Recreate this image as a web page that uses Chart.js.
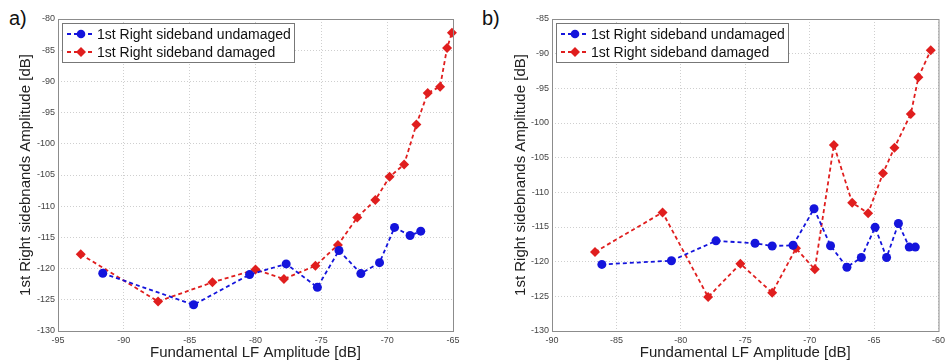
<!DOCTYPE html>
<html>
<head>
<meta charset="utf-8">
<script src="https://cdn.jsdelivr.net/npm/chart.js@4.4.0/dist/chart.umd.min.js"></script>
<style>
  body { margin: 0; background: #fff; width: 949px; height: 362px; overflow: hidden; position: relative; font-family: "Liberation Sans", Arial, sans-serif; }
  .panel { position: absolute; top: 0; }
  .tag { position: absolute; top: 7px; font-size: 20px; color: #111; }
</style>
</head>
<body>
<div class="tag" style="left:9px">a)</div>
<div class="tag" style="left:482px">b)</div>
<div class="panel" style="left:0px"><canvas id="chartA" width="470" height="362"></canvas></div>
<div class="panel" style="left:470px"><canvas id="chartB" width="479" height="362"></canvas></div>
<script>
// a) valores
const aUndamagedX = [-91.6, -84.7, -80.45, -77.67, -75.3, -73.66, -72.0, -70.58, -69.44, -68.26, -67.45];
const aUndamagedY = [-120.75, -125.8, -120.96, -119.25, -123.0, -117.1, -120.8, -119.05, -113.4, -114.7, -114.0];
const aDamagedX = [-93.27, -87.4, -83.27, -80.0, -77.84, -75.45, -73.74, -72.27, -70.9, -69.82, -68.71, -67.78, -66.92, -65.98, -65.45, -65.08];
const aDamagedY = [-117.7, -125.27, -122.2, -120.16, -121.66, -119.55, -116.2, -111.8, -109.0, -105.3, -103.3, -96.9, -91.86, -90.84, -84.65, -82.2];

// b)
const bUndamagedX = [-86.13, -80.73, -77.27, -74.24, -72.91, -71.29, -69.66, -68.38, -67.11, -65.99, -64.92, -64.03, -63.11, -62.27, -61.8];
const bUndamagedY = [-120.4, -119.86, -117.0, -117.35, -117.74, -117.64, -112.36, -117.7, -120.8, -119.4, -115.05, -119.4, -114.5, -117.9, -117.9];
const bDamagedX = [-86.66, -81.42, -77.88, -75.38, -72.91, -71.06, -69.6, -68.12, -66.7, -65.46, -64.31, -63.42, -62.15, -61.56, -60.6];
const bDamagedY = [-118.6, -112.9, -125.1, -120.3, -124.47, -118.08, -121.1, -103.17, -111.5, -113.0, -107.26, -103.56, -98.7, -93.4, -89.5];

const seriesLabels = ['1st Right sideband undamaged', '1st Right sideband damaged'];
const xTitle = 'Fundamental LF Amplitude [dB]';
const yTitle = '1st Right sidebnands Amplitude [dB]';

const BLUE = '#1414dc';
const RED = '#e01e1e';

Chart.defaults.font.family = '"Liberation Sans", Arial, sans-serif';

function pts(xs, ys) {
    return xs.map((x, i) => ({ x: x, y: ys[i] }));
}

// caixa da legenda dentro da área do gráfico + moldura
const boxLegend = {
    id: 'boxLegend',
    afterDatasetsDraw(chart, args, opts) {
        const ctx = chart.ctx;
        const a = chart.chartArea;
        ctx.save();
        ctx.strokeStyle = '#8c8c8c';
        ctx.lineWidth = 1;
        ctx.strokeRect(a.left + 0.5, a.top + 0.5, a.right - a.left, a.bottom - a.top);

        const bx = a.left + 4, by = a.top + 4, bw = opts.width, bh = 39;
        ctx.fillStyle = '#fff';
        ctx.fillRect(bx, by, bw, bh);
        ctx.strokeStyle = '#777';
        ctx.strokeRect(bx + 0.5, by + 0.5, bw, bh);

        ctx.font = '14px "Liberation Sans", Arial, sans-serif';
        ctx.textBaseline = 'middle';
        chart.data.datasets.forEach((ds, i) => {
            const y = by + 11 + i * 18;
            ctx.strokeStyle = ds.borderColor;
            ctx.lineWidth = 1.8;
            ctx.setLineDash([4, 3]);
            ctx.beginPath();
            ctx.moveTo(bx + 5, y);
            ctx.lineTo(bx + 32, y);
            ctx.stroke();
            ctx.setLineDash([]);
            ctx.fillStyle = ds.borderColor;
            ctx.beginPath();
            if (ds.pointStyle === 'rectRot') {
                ctx.moveTo(bx + 19, y - 5);
                ctx.lineTo(bx + 24, y);
                ctx.lineTo(bx + 19, y + 5);
                ctx.lineTo(bx + 14, y);
                ctx.closePath();
            } else {
                ctx.arc(bx + 19, y, 4.3, 0, Math.PI * 2);
            }
            ctx.fill();
            ctx.fillStyle = '#111';
            ctx.fillText(ds.label, bx + 35, y + 1);
        });
        ctx.restore();
    }
};

function makeChart(id, undX, undY, damX, damY, xr, yr, pad, yWidth, legendW) {
    const ctx = document.getElementById(id).getContext('2d');
    return new Chart(ctx, {
        type: 'line',
        data: {
            datasets: [{
                label: seriesLabels[0],
                data: pts(undX, undY),
                borderColor: BLUE,
                backgroundColor: BLUE,
                borderWidth: 1.8,
                borderDash: [4, 3],
                pointStyle: 'circle',
                pointRadius: 4.5,
                pointBorderWidth: 0,
                tension: 0,
                clip: false
            }, {
                label: seriesLabels[1],
                data: pts(damX, damY),
                borderColor: RED,
                backgroundColor: RED,
                borderWidth: 1.8,
                borderDash: [4, 3],
                pointStyle: 'rectRot',
                pointRadius: 5,
                pointBorderWidth: 0,
                tension: 0,
                clip: false
            }]
        },
        options: {
            responsive: false,
            animation: false,
            events: [],
            layout: { padding: pad },
            plugins: {
                legend: { display: false },
                tooltip: { enabled: false },
                boxLegend: { width: legendW }
            },
            scales: {
                x: {
                    type: 'linear',
                    min: xr[0], max: xr[1],
                    afterFit: s => { s.height = 31; },
                    ticks: { stepSize: 5, color: '#444', font: { size: 9 }, padding: 4, maxRotation: 0 },
                    grid: { color: '#cfcfcf', drawTicks: false },
                    border: { display: false, dash: [1, 2] },
                    title: { display: true, text: xTitle, color: '#222', font: { size: 15 }, padding: { top: 0, bottom: 0 } }
                },
                y: {
                    type: 'linear',
                    min: yr[0], max: yr[1],
                    afterFit: s => { s.width = yWidth; },
                    ticks: { stepSize: 5, color: '#444', font: { size: 9 }, padding: 3 },
                    grid: { color: '#cfcfcf', drawTicks: false },
                    border: { display: false, dash: [1, 2] },
                    title: { display: true, text: yTitle, color: '#222', font: { size: 15 }, padding: { top: 4, bottom: 0 } }
                }
            }
        },
        plugins: [boxLegend]
    });
}

makeChart('chartA', aUndamagedX, aUndamagedY, aDamagedX, aDamagedY,
    [-95, -65], [-130, -80], { left: 13, top: 19, right: 17, bottom: 0 }, 45, 232);
makeChart('chartB', bUndamagedX, bUndamagedY, bDamagedX, bDamagedY,
    [-90, -60], [-130, -85], { left: 38, top: 19, right: 5, bottom: 0 }, 44, 232);
</script>
</body>
</html>
